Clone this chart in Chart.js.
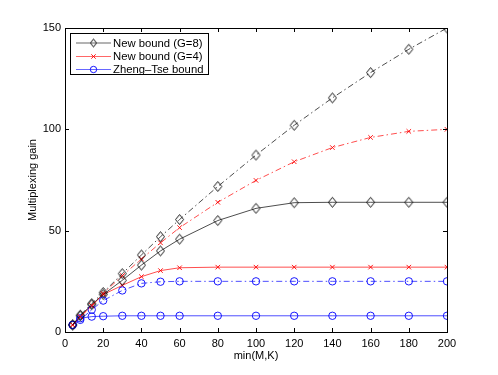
<!DOCTYPE html>
<html>
<head>
<meta charset="utf-8">
<script src="https://cdn.jsdelivr.net/npm/chart.js@4/dist/chart.umd.min.js"></script>
<style>
html,body{margin:0;padding:0;background:#fff;}
#wrap{position:relative;width:498px;height:375px;}
</style>
</head>
<body>
<div id="wrap"><canvas id="c" width="498" height="375"></canvas></div>
<script>
const minMK = [4, 8, 14, 20, 30, 40, 50, 60, 80, 100, 120, 140, 160, 180, 200];
const g8Solid = [3.5, 8, 13.5, 18.5, 25.5, 33, 40, 45.8, 55, 61, 63.8, 64, 64, 64, 64];
const g8Dash = [3.5, 8.3, 14, 19.5, 28.8, 38, 47, 55.5, 71.8, 87.3, 102, 115.5, 128, 139.5, 150];
const g4Solid = [3.5, 7.5, 13, 18.5, 23, 27.3, 30.3, 31.7, 32, 32, 32, 32, 32, 32, 32];
const g4Dash = [3.5, 7.5, 13, 19, 27.8, 36, 44, 51.5, 64, 74.8, 84, 91, 96, 99, 100];
const ztSolid = [3.5, 6.8, 7.6, 7.8, 8, 8, 8, 8, 8, 8, 8, 8, 8, 8, 8];
const ztDash = [3.5, 6, 11, 15.5, 20.5, 24, 24.8, 25, 25, 25, 25, 25, 25, 25, 25];
const xTicks = [0, 20, 40, 60, 80, 100, 120, 140, 160, 180, 200];
const yTicks = [0, 50, 100, 150];
const legendLabels = ['New bound (G=8)', 'New bound (G=4)', 'Zheng\u2013Tse bound'];

const FONT = '"Liberation Sans", Arial, sans-serif';
const DASHDOT = [6, 3, 1.5, 3];

function diamondImg(color, w, h) {
  const cv = document.createElement('canvas');
  cv.width = w + 3; cv.height = h + 3;
  const g = cv.getContext('2d');
  g.strokeStyle = color; g.lineWidth = 0.9;
  const cx = cv.width / 2, cy = cv.height / 2;
  g.beginPath();
  g.moveTo(cx, cy - h / 2); g.lineTo(cx + w / 2, cy); g.lineTo(cx, cy + h / 2); g.lineTo(cx - w / 2, cy); g.closePath();
  g.stroke();
  return cv;
}
const dia = diamondImg('#000', 8, 10);
const diaSmall = diamondImg('#000', 6, 8);

function pts(ys) { return minMK.map((x, i) => ({x: x, y: ys[i]})); }

function ds(ys, color, dashed, marker) {
  const d = {
    data: pts(ys),
    borderColor: color,
    borderWidth: 0.7,
    borderDash: dashed ? DASHDOT : [],
    backgroundColor: 'rgba(0,0,0,0)',
    pointBorderColor: color,
    pointBackgroundColor: 'rgba(0,0,0,0)',
    pointBorderWidth: 0.9,
    showLine: true,
    tension: 0,
    fill: false
  };
  if (marker === 'd') { d.pointStyle = dia; d.pointRadius = 5; }
  else if (marker === 'x') { d.pointStyle = 'crossRot'; d.pointRadius = 3.2; }
  else { d.pointStyle = 'circle'; d.pointRadius = 3.7; }
  return d;
}

const datasets = [
  ds(g8Dash, '#000', true, 'd'),
  ds(g4Dash, '#ff0000', true, 'x'),
  ds(ztDash, '#0000ff', true, 'o'),
  ds(g8Solid, '#000', false, 'd'),
  ds(g4Solid, '#ff0000', false, 'x'),
  ds(ztSolid, '#0000ff', false, 'o')
];

const framePlugin = {
  id: 'frame',
  afterDatasetsDraw(chart) {
    const ctx = chart.ctx, a = chart.chartArea;
    const xs = chart.scales.x, ys = chart.scales.y;
    ctx.save();
    ctx.strokeStyle = '#000';
    ctx.lineWidth = 1;
    ctx.strokeRect(Math.round(a.left) + 0.5, Math.round(a.top) + 0.5, Math.round(a.right - a.left), Math.round(a.bottom - a.top));
    ctx.beginPath();
    const tl = 4;
    xTicks.forEach(v => {
      const px = Math.round(xs.getPixelForValue(v)) + 0.5;
      ctx.moveTo(px, a.bottom); ctx.lineTo(px, a.bottom - tl);
      ctx.moveTo(px, a.top); ctx.lineTo(px, a.top + tl);
    });
    yTicks.forEach(v => {
      const py = Math.round(ys.getPixelForValue(v)) + 0.5;
      ctx.moveTo(a.left, py); ctx.lineTo(a.left + tl, py);
      ctx.moveTo(a.right, py); ctx.lineTo(a.right - tl, py);
    });
    ctx.stroke();

    // legend
    const lx = 70.5, ly = 33.5, lw = 138, lh = 41;
    ctx.fillStyle = '#fff';
    ctx.fillRect(lx, ly, lw, lh);
    ctx.strokeStyle = '#000';
    ctx.lineWidth = 1;
    ctx.strokeRect(lx, ly, lw, lh);
    const rows = [43, 56.5, 69.5];
    const cols = ['#000', '#ff0000', '#0000ff'];
    rows.forEach((ry, i) => {
      ctx.strokeStyle = cols[i];
      ctx.lineWidth = 0.6;
      ctx.setLineDash([]);
      ctx.beginPath(); ctx.moveTo(76, ry); ctx.lineTo(111, ry); ctx.stroke();
      const mx = 93.5;
      ctx.lineWidth = 0.9;
      if (i === 0) {
        ctx.drawImage(diaSmall, mx - diaSmall.width / 2, ry - diaSmall.height / 2);
      } else if (i === 1) {
        ctx.beginPath();
        ctx.moveTo(mx - 2.2, ry - 2.2); ctx.lineTo(mx + 2.2, ry + 2.2);
        ctx.moveTo(mx + 2.2, ry - 2.2); ctx.lineTo(mx - 2.2, ry + 2.2);
        ctx.stroke();
      } else {
        ctx.beginPath(); ctx.arc(mx, ry, 3.2, 0, Math.PI * 2); ctx.stroke();
      }
      ctx.fillStyle = '#000';
      ctx.font = '11.3px ' + FONT;
      ctx.textAlign = 'left';
      ctx.textBaseline = 'middle';
      ctx.fillText(legendLabels[i], 113, ry + 0.5);
    });

    // axis titles
    ctx.fillStyle = '#000';
    ctx.font = '11px ' + FONT;
    ctx.textAlign = 'center';
    ctx.textBaseline = 'middle';
    ctx.fillText('min(M,K)', (a.left + a.right) / 2, 356);
    ctx.save();
    ctx.translate(33, (a.top + a.bottom) / 2);
    ctx.rotate(-Math.PI / 2);
    ctx.fillText('Multiplexing gain', 0, 0);
    ctx.restore();
    ctx.restore();
  }
};

new Chart(document.getElementById('c'), {
  type: 'scatter',
  data: { datasets: datasets },
  options: {
    responsive: false,
    animation: false,
    devicePixelRatio: 1,
    layout: { padding: { left: 0, right: 51, top: 28, bottom: 0 } },
    plugins: { legend: { display: false }, tooltip: { enabled: false } },
    scales: {
      x: {
        type: 'linear', min: 0, max: 200,
        afterBuildTicks: s => { s.ticks = xTicks.map(v => ({value: v})); },
        afterFit: s => { s.height = 43; },
        grid: { display: false, drawTicks: false },
        border: { display: false },
        ticks: { color: '#000', font: { family: FONT, size: 11 }, padding: 5, maxRotation: 0 }
      },
      y: {
        type: 'linear', min: 0, max: 150,
        afterBuildTicks: s => { s.ticks = yTicks.map(v => ({value: v})); },
        afterFit: s => { s.width = 65; },
        grid: { display: false, drawTicks: false },
        border: { display: false },
        ticks: { color: '#000', font: { family: FONT, size: 11 }, padding: 4 }
      }
    }
  },
  plugins: [framePlugin]
});
</script>
</body>
</html>
